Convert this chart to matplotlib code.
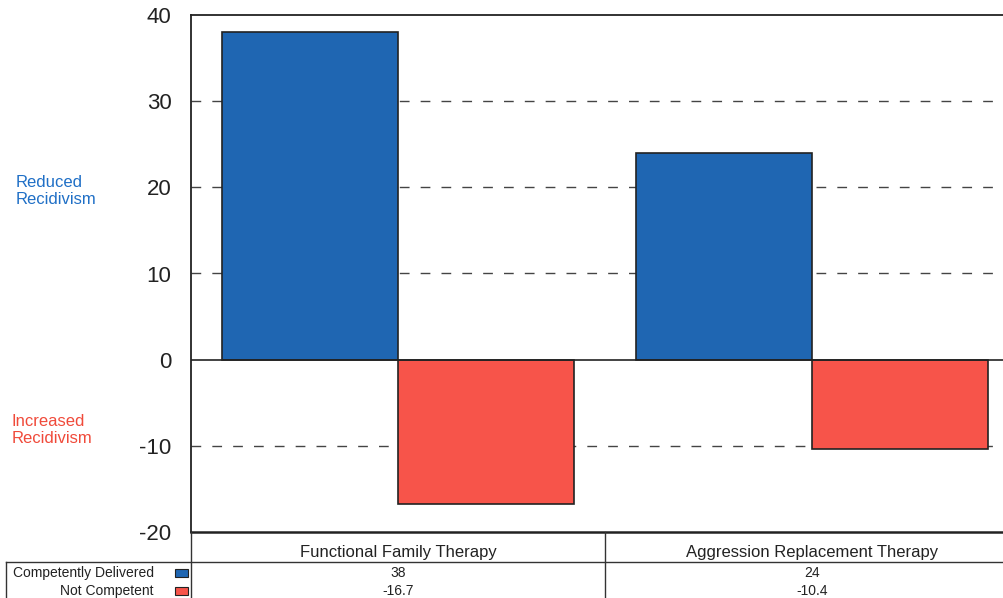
import matplotlib.pyplot as plt
from matplotlib.lines import Line2D
from matplotlib.patches import Rectangle

plt.rcParams['font.family'] = ['Liberation Sans', 'DejaVu Sans']

programs = ['Functional Family Therapy', 'Aggression Replacement Therapy']
series_names = ['Competently Delivered', 'Not Competent']
competent = [38, 24]
not_competent = [-16.7, -10.4]
series_values = [competent, not_competent]
y_ticks = [-20, -10, 0, 10, 20, 30, 40]

blue = '#1f66b2'
red = '#f7544a'
colors = [blue, red]

W, H = 1004, 598
fig = plt.figure(figsize=(W / 100, H / 100), dpi=100)


def fx(px):
    return px / W


def fy(py):
    return 1 - py / H


# plot area runs past the right edge of the page
ax_left, ax_right, ax_top, ax_bottom = 191, 1019, 15, 532
ax = fig.add_axes([fx(ax_left), fy(ax_bottom), fx(ax_right - ax_left), fy(ax_top) - fy(ax_bottom)])

width = 0.425
offsets = [-width / 2, width / 2]
for k in range(len(series_values)):
    xs = [i + 0.5 + offsets[k] for i in range(len(programs))]
    ax.bar(xs, series_values[k], width=width, color=colors[k], edgecolor='#222222',
           linewidth=1.2, zorder=3)

ax.set_xlim(0, len(programs))
ax.set_ylim(-20, 40)
ax.set_yticks(y_ticks)
ax.set_yticklabels([str(t) for t in y_ticks], fontsize=16, color='#222222')
ax.tick_params(axis='y', length=0, pad=14)
ax.set_xticks([])

for t in y_ticks:
    if t in (-20, 0, 40):
        continue
    ax.axhline(t, color='#444444', linewidth=1.0, linestyle=(0, (7, 8)), zorder=1)
ax.axhline(0, color='#222222', linewidth=1.2, zorder=4)

for side in ['left', 'top', 'bottom']:
    ax.spines[side].set_color('#222222')
    ax.spines[side].set_linewidth(1.3)
ax.spines['bottom'].set_linewidth(1.8)
ax.spines['right'].set_visible(False)

fig.text(fx(16), fy(191), 'Reduced\nRecidivism', color='#1f6fc6', fontsize=12,
         ha='left', va='center', linespacing=1.2)
fig.text(fx(12), fy(430), 'Increased\nRecidivism', color='#f04a3a', fontsize=12,
         ha='left', va='center', linespacing=1.2)

# data table under the plot
line_kw = dict(color='#333333', linewidth=1.0, transform=fig.transFigure)
fig.add_artist(Line2D([fx(191), fx(191)], [fy(532), fy(598)], **line_kw))
fig.add_artist(Line2D([fx(605), fx(605)], [fy(532), fy(598)], **line_kw))
fig.add_artist(Line2D([fx(6), fx(1004)], [fy(562), fy(562)], **line_kw))
fig.add_artist(Line2D([fx(6), fx(6)], [fy(562), fy(598)], **line_kw))

col_w = 414
row_y = [573, 591]
for i, name in enumerate(programs):
    cx = ax_left + col_w * (i + 0.5)
    fig.text(fx(cx), fy(552), name, fontsize=12, ha='center', va='center', color='#222222')
    for k in range(len(series_values)):
        fig.text(fx(cx), fy(row_y[k]), f'{series_values[k][i]:g}', fontsize=10,
                 ha='center', va='center', color='#222222')

for k, name in enumerate(series_names):
    fig.text(fx(154), fy(row_y[k]), name, fontsize=10, ha='right', va='center', color='#222222')
    fig.add_artist(Rectangle((fx(175), fy(row_y[k] + 4)), fx(13), fy(0) - fy(8),
                             facecolor=colors[k], edgecolor='#222222', linewidth=0.8,
                             transform=fig.transFigure))

fig.savefig('out.png', dpi=100)
